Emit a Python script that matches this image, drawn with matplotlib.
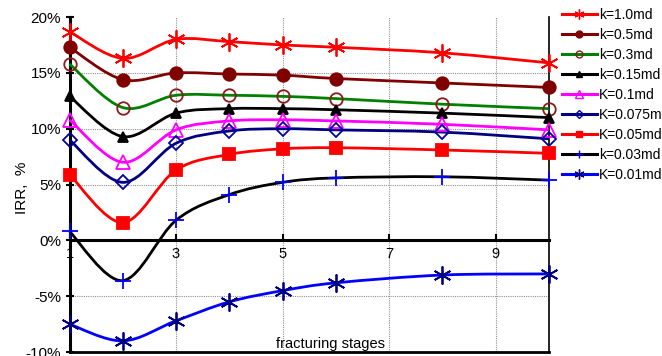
import matplotlib
matplotlib.use('Agg')
import matplotlib.pyplot as plt
import numpy as np
from matplotlib.path import Path
from matplotlib.patches import PathPatch
from matplotlib.lines import Line2D

plt.rcParams['font.family'] = ['Liberation Sans', 'DejaVu Sans']

stages = [1, 2, 3, 4, 5, 6, 8, 10]

labels = ['k=1.0md', 'k=0.5md', 'k=0.3md', 'k=0.15md', 'K=0.1md',
          'K=0.075md', 'K=0.05md', 'k=0.03md', 'K=0.01md']

k_1_0 = [18.7, 16.3, 18.0, 17.8, 17.5, 17.3, 16.8, 15.9]
k_0_5 = [17.3, 14.4, 15.0, 14.9, 14.8, 14.5, 14.1, 13.7]
k_0_3 = [15.8, 11.9, 13.0, 13.0, 12.9, 12.7, 12.2, 11.8]
k_0_15 = [12.9, 9.3, 11.4, 11.8, 11.8, 11.7, 11.4, 11.0]
k_0_1 = [10.8, 7.0, 9.9, 10.7, 10.8, 10.7, 10.4, 9.9]
k_0_075 = [9.0, 5.2, 8.7, 9.8, 10.0, 9.9, 9.7, 9.1]
k_0_05 = [5.9, 1.6, 6.3, 7.7, 8.2, 8.3, 8.1, 7.8]
k_0_03 = [0.8, -3.6, 1.8, 4.1, 5.2, 5.6, 5.7, 5.4]
k_0_01 = [-7.5, -9.0, -7.2, -5.5, -4.5, -3.8, -3.1, -3.0]

series = [k_1_0, k_0_5, k_0_3, k_0_15, k_0_1, k_0_075, k_0_05, k_0_03, k_0_01]

# line colour, marker, marker face, marker edge, marker size
styles = [
    ('#FF0000', (6, 2, 0), '#FF0000', '#FF0000', 13),
    ('#800000', 'o', '#800000', '#800000', 9),
    ('#008000', 'o', 'none', '#8B1A1A', 9),
    ('#000000', '^', '#000000', '#000000', 7),
    ('#FF00FF', '^', 'none', '#FF00FF', 10),
    ('#000080', 'D', 'none', '#0000A0', 7),
    ('#FF0000', 's', '#FF0000', '#FF0000', 8),
    ('#000000', '+', '#0000FF', '#0000FF', 11),
    ('#0000FF', (6, 2, 0), '#000080', '#000080', 13),
]


def smooth_path(x, y):
    # bezier curve through the points, like a spreadsheet "smoothed line"
    pts = np.column_stack([x, y]).astype(float)
    verts = [pts[0]]
    codes = [Path.MOVETO]
    n = len(pts)
    for i in range(n - 1):
        p0 = pts[i - 1] if i > 0 else pts[i]
        p1 = pts[i]
        p2 = pts[i + 1]
        p3 = pts[i + 2] if i + 2 < n else pts[i + 1]
        c1 = p1 + (p2 - p0) / 6.0
        c2 = p2 - (p3 - p1) / 6.0
        verts += [c1, c2, p2]
        codes += [Path.CURVE4] * 3
    return Path(verts, codes)


fig = plt.figure(figsize=(6.62, 3.56), dpi=100)
ax = fig.add_axes([0.105, 0.011, 0.724, 0.941])
ax.set_xlim(1, 10)
ax.set_ylim(-10, 20)

for vals, (lc, mk, mf, me, ms) in zip(series, styles):
    ax.add_patch(PathPatch(smooth_path(stages, vals), facecolor='none',
                           edgecolor=lc, lw=2.0, zorder=3, clip_on=False))
    ax.plot(stages, vals, ls='none', marker=mk, ms=ms, mfc=mf, mec=me,
            mew=1.3, zorder=4, clip_on=False)

# grid
for yv in [15, 10, 5, -5]:
    ax.axhline(yv, color='#909090', lw=0.8, ls=(0, (1, 1)), zorder=1)
for xv in [3, 5, 7, 9]:
    ax.axvline(xv, color='#909090', lw=0.8, ls=(0, (1, 1)), zorder=1)

# spines
ax.spines['top'].set_visible(False)
ax.spines['left'].set_linewidth(2.2)
ax.spines['right'].set_linewidth(1.2)
ax.spines['bottom'].set_position(('data', 0))
ax.spines['bottom'].set_linewidth(2.2)
ax.spines['bottom'].set_zorder(2)
ax.axhline(-10, color='black', lw=2.0, clip_on=False)

ax.set_xticks([1, 3, 5, 7, 9])
ax.set_xticklabels(['1', '3', '5', '7', '9'])
ax.tick_params(axis='x', direction='in', length=4, width=1.5, labelsize=10.5, pad=5)
ax.set_yticks([-10, -5, 0, 5, 10, 15, 20])
ax.set_yticklabels(['-10%', '-5%', '0%', '5%', '10%', '15%', '20%'])
ax.tick_params(axis='y', direction='inout', length=6, width=1.5, labelsize=11, pad=3)

ax.set_ylabel('IRR,  %', fontsize=11)
ax.yaxis.set_label_coords(-0.085, 0.49)
ax.text(5.9, -9.3, 'fracturing stages', ha='center', va='center', fontsize=10.5)

handles = [Line2D([], [], color=lc, lw=2.2, marker=mk, ms=ms * 0.55, mfc=mf, mec=me, mew=1.0)
           for (lc, mk, mf, me, ms) in styles]
fig.legend(handles, labels, loc='upper left', bbox_to_anchor=(0.849, 0.978),
           frameon=False, fontsize=10, handlelength=2.5, handletextpad=0.15,
           labelspacing=0.43, borderpad=0, borderaxespad=0)

fig.savefig('out.png', dpi=100)
